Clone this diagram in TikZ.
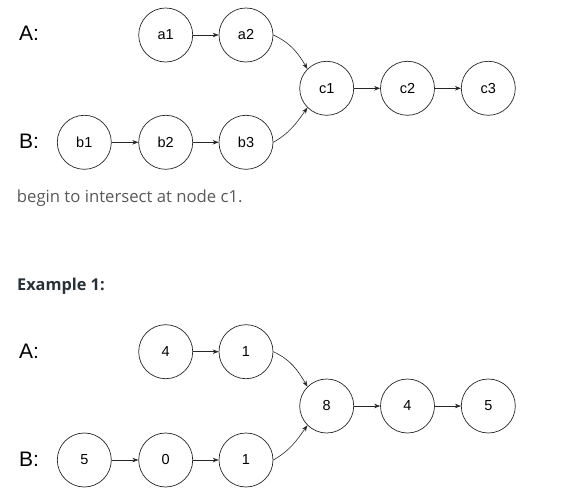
\documentclass[tikz,border=0pt]{standalone}
\usepackage{fontspec}
\setmainfont{Liberation Sans}
\newfontfamily\parafont{Open Sans}
\usetikzlibrary{arrows.meta}
\definecolor{paragrey}{HTML}{595959}
\definecolor{headdark}{HTML}{263238}
\begin{document}
\begin{tikzpicture}[x=1pt,y=-1pt,
  lnode/.style={circle,draw=black!85,line width=0.7pt,minimum size=54pt,inner sep=0pt,font=\fontsize{14.5}{15}\selectfont},
  lbl/.style={font=\fontsize{21}{22}\selectfont,anchor=center},
  arr/.style={-{Stealth[length=6pt,width=4.5pt]},line width=0.6pt,draw=black!85},
  para/.style={anchor=base west,inner sep=0pt,font=\parafont\fontsize{16.7}{18}\selectfont,text=paragrey},
  head/.style={anchor=base west,inner sep=0pt,font=\parafont\bfseries\fontsize{16.3}{17}\selectfont,text=headdark}]
\useasboundingbox (0,0) rectangle (573,495);
% top diagram
\node[lbl] (la) at (29,33) {A:};
\node[lbl] (lb) at (29,141) {B:};
\node[lnode] (a1) at (165.7,35) {a1};
\node[lnode] (a2) at (246,35) {a2};
\node[lnode] (b1) at (84.3,142.3) {b1};
\node[lnode] (b2) at (165.7,142.3) {b2};
\node[lnode] (b3) at (246,142.3) {b3};
\node[lnode] (c1) at (326.7,88.3) {c1};
\node[lnode] (c2) at (407.5,88.3) {c2};
\node[lnode] (c3) at (488.3,88.3) {c3};
\draw[arr] (a1) -- (a2);
\draw[arr] (b1) -- (b2);
\draw[arr] (b2) -- (b3);
\draw[arr] (c1) -- (c2);
\draw[arr] (c2) -- (c3);
\draw[arr] (a2.east) to[out=-25,in=120] (c1.135);
\draw[arr] (b3.east) to[out=30,in=-125] (c1.225);
% text
\node[para] (t1) at (16.7,202) {begin to intersect at node c1.};
\node[head] (t2) at (17,290) {Example 1:};
% example diagram
\node[lbl] (ea) at (29,351) {A:};
\node[lbl] (eb) at (29,459) {B:};
\node[lnode] (x4) at (165.7,351.7) {4};
\node[lnode] (x1) at (246,351.7) {1};
\node[lnode] (y5) at (84.3,460) {5};
\node[lnode] (y0) at (165.7,460) {0};
\node[lnode] (y1) at (246,460) {1};
\node[lnode] (z8) at (326.7,406) {8};
\node[lnode] (z4) at (407.5,406) {4};
\node[lnode] (z5) at (488.3,406) {5};
\draw[arr] (x4) -- (x1);
\draw[arr] (y5) -- (y0);
\draw[arr] (y0) -- (y1);
\draw[arr] (z8) -- (z4);
\draw[arr] (z4) -- (z5);
\draw[arr] (x1.east) to[out=-25,in=120] (z8.135);
\draw[arr] (y1.east) to[out=30,in=-125] (z8.225);
\end{tikzpicture}
\end{document}
